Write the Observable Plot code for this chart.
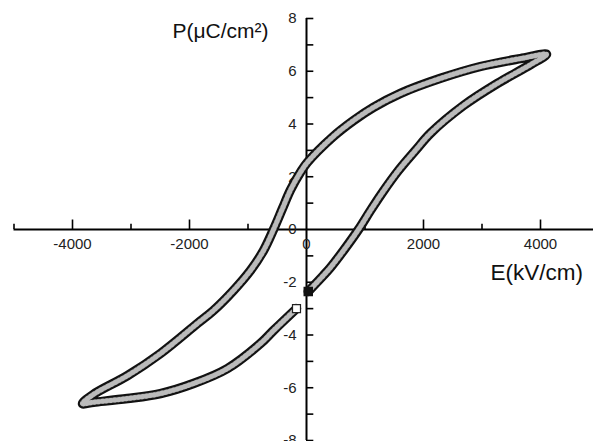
<!DOCTYPE html>
<html>
<head>
<meta charset="utf-8">
<script src="https://cdn.jsdelivr.net/npm/d3@7"></script>
<script src="https://cdn.jsdelivr.net/npm/@observablehq/plot@0.6"></script>
<style>
  html, body { margin: 0; padding: 0; background: white; }
  #chart svg { display: block; }
</style>
</head>
<body>
<div id="chart"></div>
<script>
// Field E (kV/cm) and polarization P (µC/cm²), in measurement order
const fieldE = [30, 290, 410, 632, 889, 1094, 1316, 1573, 1863, 2120, 2684, 3265, 3829, 4103,
  3658, 2974, 2291, 1607, 1145, 803, 444, 17, -103, -273, -410, -564, -735, -957, -1248, -1590, -1863, -2496, -3060, -3641, -3829,
  -3641, -3060, -2496, -1932, -1350, -786, -564, -171];
const polP = [-2.35, -1.74, -1.44, -0.8, 0, 0.72, 1.46, 2.24, 3.0, 3.65, 4.7, 5.54, 6.25, 6.64,
  6.48, 6.18, 5.73, 5.16, 4.63, 4.13, 3.5, 2.55, 2.17, 1.5, 0.8, 0, -0.8, -1.55, -2.31, -3.07, -3.56, -4.7, -5.54, -6.25, -6.6,
  -6.55, -6.41, -6.22, -5.84, -5.27, -4.32, -3.83, -3.0];

const xMajorTicks = [-4000, -2000, 2000, 4000];
const xLabelTicks = [-4000, -2000, 0, 2000, 4000];
const xMinorTicks = [-5000, -3000, -1000, 1000, 3000];
const yAllTicks = [-8, -7, -6, -5, -4, -3, -2, -1, 1, 2, 3, 4, 5, 6, 7, 8];
const yLabelTicks = [-8, -6, -4, -2, 0, 2, 4, 6, 8];
const xTitle = "E(kV/cm)";
const yTitle = "P(\u03bcC/cm\u00b2)";

const loop = fieldE.map((e, i) => ({E: e, P: polP[i]}));
const first = [loop[0]];
const last = [loop[loop.length - 1]];

const font = "'Liberation Sans', Arial, sans-serif";

const chart = Plot.plot({
  width: 593,
  height: 441,
  marginLeft: 13.5,
  marginRight: 0,
  marginTop: 18,
  marginBottom: 1,
  x: {domain: [-5000, 4906], axis: null},
  y: {domain: [-8, 8], axis: null},
  style: {fontFamily: font, background: "white", color: "black"},
  marks: [
    Plot.ruleY([0], {stroke: "black", strokeWidth: 2}),
    Plot.ruleX([0], {y1: -8, y2: 8, stroke: "black", strokeWidth: 2}),
    Plot.ruleX(xMajorTicks, {x: d => d, y1: 0, y2: 0.36, stroke: "black", strokeWidth: 1.6}),
    Plot.ruleX(xMinorTicks, {x: d => d, y1: 0, y2: 0.2, stroke: "black", strokeWidth: 1.6}),
    Plot.ruleY(yAllTicks, {y: d => d, x1: 0, x2: 125, stroke: "black", strokeWidth: 1.6}),
    Plot.text(xLabelTicks, {x: d => d, y: 0, dy: 15, text: d => String(d), fontSize: 15, fill: "#222"}),
    Plot.text(yLabelTicks, {x: 0, y: d => d, dx: -10, textAnchor: "end", text: d => String(d), fontSize: 15, fill: "#222"}),
    Plot.line(loop, {x: "E", y: "P", curve: "catmull-rom", stroke: "#111", strokeWidth: 9.5, strokeLinejoin: "round"}),
    Plot.line(loop, {x: "E", y: "P", curve: "catmull-rom", stroke: "#555", strokeWidth: 5.5, strokeLinejoin: "round"}),
    Plot.line(loop, {x: "E", y: "P", curve: "catmull-rom", stroke: "#bbbbbb", strokeWidth: 5, strokeDasharray: "1.2,2.8"}),
    Plot.dot(first, {x: "E", y: "P", symbol: "square", r: 4.5, fill: "#111", stroke: "#111"}),
    Plot.dot(last, {x: "E", y: "P", symbol: "square", r: 4.5, fill: "white", stroke: "#222", strokeWidth: 1.2}),
    Plot.text([yTitle], {frameAnchor: "top-left", dx: 158.5, dy: 13, text: d => d, textAnchor: "start", lineAnchor: "middle", fontSize: 21, fill: "#111"}),
    Plot.text([xTitle], {frameAnchor: "top-left", dx: 476.5, dy: 254, text: d => d, textAnchor: "start", lineAnchor: "middle", fontSize: 22.5, fill: "#111"})
  ]
});
document.getElementById("chart").appendChild(chart);
</script>
</body>
</html>
